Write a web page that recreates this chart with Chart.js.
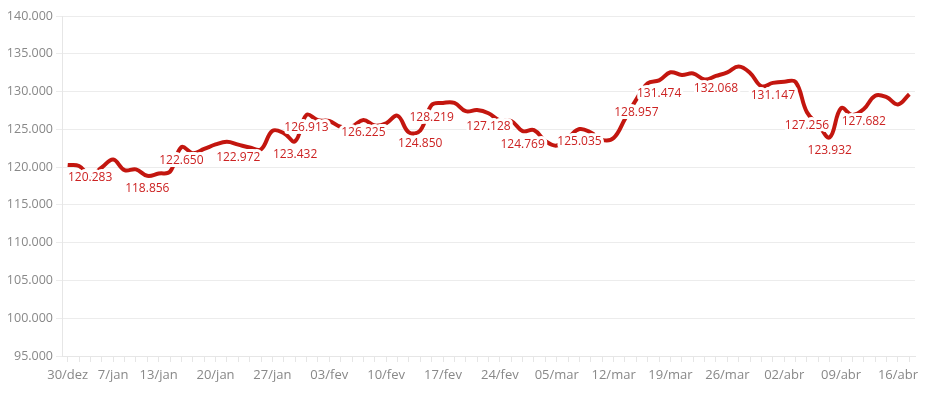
<!DOCTYPE html>
<html>
<head>
<meta charset="utf-8">
<script src="https://cdn.jsdelivr.net/npm/chart.js@4.4.1/dist/chart.umd.min.js"></script>
<style>
    html, body { margin: 0; padding: 0; background: #fff; }
    #wrap { width: 946px; height: 394px; position: relative; }
</style>
</head>
<body>
<div id="wrap"><canvas id="ibovChart"></canvas></div>
<script>
// trading days (categories)
const dates = [
    '30/dez', '2/jan', '3/jan', '6/jan', '7/jan', '8/jan', '9/jan', '10/jan', '13/jan', '14/jan',
    '15/jan', '16/jan', '17/jan', '20/jan', '21/jan', '22/jan', '23/jan', '24/jan', '27/jan', '28/jan',
    '29/jan', '30/jan', '31/jan', '03/fev', '04/fev', '05/fev', '06/fev', '07/fev', '10/fev', '11/fev',
    '12/fev', '13/fev', '14/fev', '17/fev', '18/fev', '19/fev', '20/fev', '21/fev', '24/fev', '25/fev',
    '26/fev', '27/fev', '28/fev', '05/mar', '06/mar', '07/mar', '10/mar', '11/mar', '12/mar', '13/mar',
    '14/mar', '17/mar', '18/mar', '19/mar', '20/mar', '21/mar', '24/mar', '25/mar', '26/mar', '27/mar',
    '28/mar', '31/mar', '01/abr', '02/abr', '03/abr', '04/abr', '07/abr', '08/abr', '09/abr', '10/abr',
    '11/abr', '14/abr', '15/abr', '16/abr', '17/abr'
];

// closing points
const closes = [
    120283, 120150, 118900, 119950, 121000, 119600, 119700, 118856, 119150, 119400,
    122650, 121850, 122400, 123000, 123350, 122972, 122600, 122350, 124800, 124500,
    123432, 126913, 126200, 126100, 125350, 125400, 126225, 125500, 125800, 126800,
    124600, 124850, 128219, 128500, 128500, 127400, 127550, 127128, 126150, 126100,
    124769, 124900, 123450, 122850, 123900, 125035, 124580, 123600, 123850, 126370,
    128957, 131100, 131474, 132550, 132200, 132400, 131600, 132068, 132550, 133300,
    132450, 130700, 131147, 131300, 131260, 127256, 125588, 123932, 127800, 126900,
    127682, 129450, 129250, 128300, 129650
];

// x-axis labels that are shown
const tickDates = [
    '30/dez', '7/jan', '13/jan', '20/jan', '27/jan', '03/fev', '10/fev', '17/fev',
    '24/fev', '05/mar', '12/mar', '19/mar', '26/mar', '02/abr', '09/abr', '16/abr'
];

// points that carry a value label
const labelledDates = [
    '30/dez', '10/jan', '15/jan', '22/jan', '29/jan', '30/jan', '06/fev', '13/fev', '14/fev',
    '21/fev', '26/fev', '07/mar', '14/mar', '18/mar', '25/mar', '01/abr', '04/abr', '08/abr', '11/abr'
];

const lineRed = '#c3160f';
const labelRed = '#cc2222';
const fontFamily = "'Open Sans', sans-serif";

function fmt(v) {
    return String(Math.round(v)).replace(/\B(?=(\d{3})+(?!\d))/g, '.');
}

// value labels under the points, with a white outline like the original
const valueLabels = {
    id: 'valueLabels',
    afterDatasetsDraw(chart) {
        const { ctx, chartArea } = chart;
        const meta = chart.getDatasetMeta(0);
        ctx.save();
        ctx.font = '12px ' + fontFamily;
        ctx.textAlign = 'center';
        ctx.textBaseline = 'middle';
        ctx.lineJoin = 'round';
        meta.data.forEach(function(pt, i) {
            if (!labelledDates.includes(dates[i])) return;
            const text = fmt(closes[i]);
            const w = ctx.measureText(text).width;
            const x = Math.max(pt.x, chartArea.left + 6 + w / 2);
            const y = pt.y + 13;
            ctx.strokeStyle = '#ffffff';
            ctx.lineWidth = 6;
            ctx.strokeText(text, x, y);
            ctx.fillStyle = labelRed;
            ctx.fillText(text, x, y);
        });
        ctx.restore();
    }
};

const ctx = document.getElementById('ibovChart').getContext('2d');
new Chart(ctx, {
    type: 'line',
    data: {
        labels: dates,
        datasets: [{
            data: closes,
            borderColor: lineRed,
            borderWidth: 4,
            pointRadius: 0,
            tension: 0.4,
            fill: false
        }]
    },
    options: {
        responsive: true,
        maintainAspectRatio: false,
        animation: false,
        layout: { padding: { top: 16, right: 31, bottom: 0, left: 0 } },
        plugins: {
            legend: { display: false },
            tooltip: { enabled: false }
        },
        scales: {
            x: {
                offset: true,
                grid: {
                    offset: false,
                    drawOnChartArea: false,
                    drawTicks: true,
                    tickLength: 6,
                    color: '#e6e6e6'
                },
                border: { color: '#e6e6e6' },
                ticks: {
                    autoSkip: false,
                    maxRotation: 0,
                    minRotation: 0,
                    padding: 5,
                    color: '#888888',
                    font: { family: fontFamily, size: 13 },
                    callback: function(value, index) {
                        const d = dates[index];
                        return tickDates.includes(d) ? d : '';
                    }
                },
                afterFit: function(scale) { scale.height = 38; }
            },
            y: {
                min: 95000,
                max: 140000,
                grid: { color: '#ececec', tickLength: 6 },
                border: { color: '#e6e6e6' },
                ticks: {
                    stepSize: 5000,
                    padding: 3,
                    color: '#888888',
                    font: { family: fontFamily, size: 12.5 },
                    callback: function(value) { return fmt(value); }
                },
                afterFit: function(scale) { scale.width = 62; }
            }
        }
    },
    plugins: [valueLabels]
});
</script>
</body>
</html>
